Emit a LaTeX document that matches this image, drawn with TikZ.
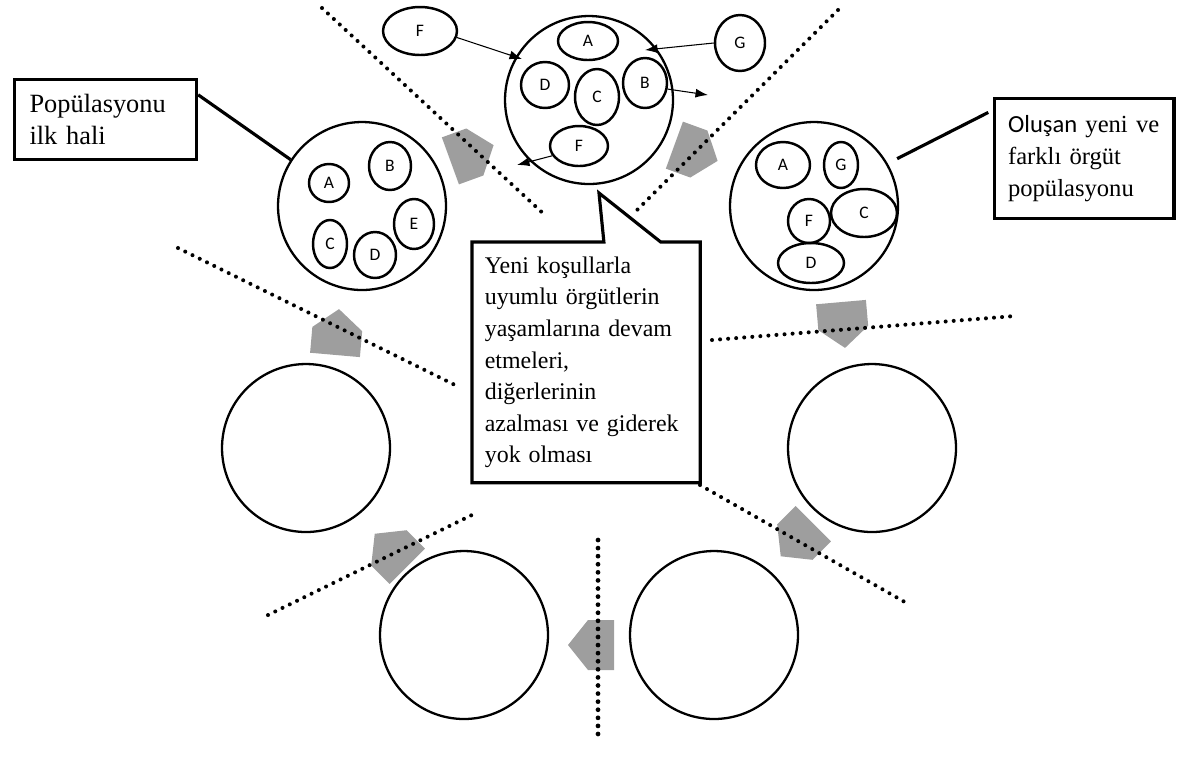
\documentclass[tikz,border=0pt]{standalone}
\usepackage{fontspec}
\setmainfont{Liberation Serif}
\newfontfamily\lettfont{Carlito}
\usetikzlibrary{shapes.geometric,arrows.meta,calc}

\begin{document}
\begin{tikzpicture}[x=0.02cm, y=-0.02cm,
  pop/.style={draw, circle, line width=1.3pt, minimum size=3.36cm, inner sep=0pt},
  org/.style={draw, ellipse, line width=1.4pt, inner sep=0pt, font=\lettfont\fontsize{10}{10}\selectfont},
  txtbox/.style={draw, line width=1.8pt, anchor=north west, align=left, inner ysep=0pt},
  flow/.style={fill=black!38},
  sep/.style={line width=2.3pt, dash pattern=on 0pt off 4.6pt, line cap=round},
  move/.style={-{Latex[length=2.5mm, width=1.8mm]}, line width=0.6pt},
  link/.style={line width=1.8pt}]
\useasboundingbox (0,0) rectangle (1185,769);

% gray arrows between the stages
\foreach \cx/\cy/\ang in {472/153/20, 696/153/-20, 843/325/-85, 797/540/-135,
                          591/645/180, 391/550/135, 337/332/85}
  \fill[flow, shift={(\cx,\cy)}, rotate=\ang]
    (-23,-25) -- (3,-25) -- (23,0) -- (3,25) -- (-23,25) -- cycle;

% dotted borders
\draw[sep] (322,8) -- (547,217);
\draw[sep] (838,10) -- (632,215);
\draw[sep] (178,248) -- (455,385);
\draw[sep] (712,340) -- (1015,316);
\draw[sep] (700,485) -- (910,605);
\draw[sep] (268,615) -- (478,512);
\draw[sep, line width=2.7pt] (598,540) -- (598,735);

% populations
\node[pop] (P0) at (362,206) {};
\node[pop] (P1) at (589,100) {};
\node[pop] (P2) at (814,206) {};
\node[pop] (P3) at (872,448) {};
\node[pop] (P4) at (714,635) {};
\node[pop] (P5) at (464,635) {};
\node[pop] (P6) at (306,448) {};

% first population
\node[org, minimum width=0.8cm, minimum height=0.76cm] (A0) at (329,183) {A};
\node[org, minimum width=0.84cm, minimum height=0.96cm] (B0) at (390,166) {B};
\node[org, minimum width=0.8cm, minimum height=1.0cm] (E0) at (414,224) {E};
\node[org, minimum width=0.68cm, minimum height=0.96cm] (C0) at (330,244) {C};
\node[org, minimum width=0.84cm, minimum height=0.92cm] (D0) at (375,255) {D};

% change
\node[org, minimum width=1.2cm, minimum height=0.76cm] (A1) at (588,41) {A};
\node[org, minimum width=0.96cm, minimum height=0.92cm] (D1) at (545,85) {D};
\node[org, minimum width=0.88cm, minimum height=1.12cm] (C1) at (597,97) {C};
\node[org, minimum width=0.88cm, minimum height=1.0cm] (B1) at (645,83) {B};
\node[org, minimum width=1.16cm, minimum height=0.8cm] (F1) at (579,146) {F};
\node[org, minimum width=1.48cm, minimum height=0.96cm] (Fin) at (420,31) {F};
\node[org, minimum width=1.0cm, minimum height=1.12cm] (Gin) at (740,43) {G};

\coordinate (fto) at (522,59);
\coordinate (gto) at (645,50);
\coordinate (bto) at (708,95);
\coordinate (fout) at (517,165);
\draw[move] (Fin.-10) -- (fto);
\draw[move] (Gin.west) -- (gto);
\draw[move] (B1.-15) -- (bto);
\draw[move] (F1.200) -- (fout);

% new population
\node[org, minimum width=1.08cm, minimum height=0.92cm] (A2) at (783,165) {A};
\node[org, minimum width=0.68cm, minimum height=0.92cm] (G2) at (841,165) {G};
\node[org, minimum width=1.32cm, minimum height=0.96cm] (C2) at (864,213) {C};
\node[org, minimum width=0.84cm, minimum height=0.88cm] (F2) at (809,221) {F};
\node[org, minimum width=1.32cm, minimum height=0.8cm] (D2) at (811,263) {D};

% labels
\node[txtbox, text width=3.04cm, inner xsep=0.3cm, minimum height=1.6cm,
  font=\fontsize{15}{18.5}\selectfont] (first) at (13,78) {Popülasyonu\\ilk hali};
\node[txtbox, text width=3.05cm, inner xsep=0.27cm, minimum height=2.4cm,
  font=\fontsize{14}{18}\selectfont] (last) at (993,97) {{\lettfont Oluşan} yeni ve\\farklı örgüt\\popülasyonu};
\draw[link] (first.15) -- (P0.147);
\draw[link, shorten <=6pt, shorten >=3pt] (P2.30) -- (last.152);

% callout
\node[anchor=north west, align=left, text width=4.05cm, inner xsep=0.25cm, inner ysep=0pt,
  minimum height=4.8cm, font=\fontsize{13.6}{18}\selectfont] (note) at (472,242)
  {Yeni koşullarla\\uyumlu örgütlerin\\yaşamlarına devam\\etmeleri,\\diğerlerinin\\azalması ve giderek\\yok olması};
\coordinate (tip) at (599,193);
\draw[link] (note.north west) -- ($(note.north west)!0.578!(note.north east)$) -- (tip)
  -- ($(note.north west)!0.827!(note.north east)$) -- (note.north east)
  -- (note.south east) -- (note.south west) -- cycle;
\end{tikzpicture}
\end{document}
